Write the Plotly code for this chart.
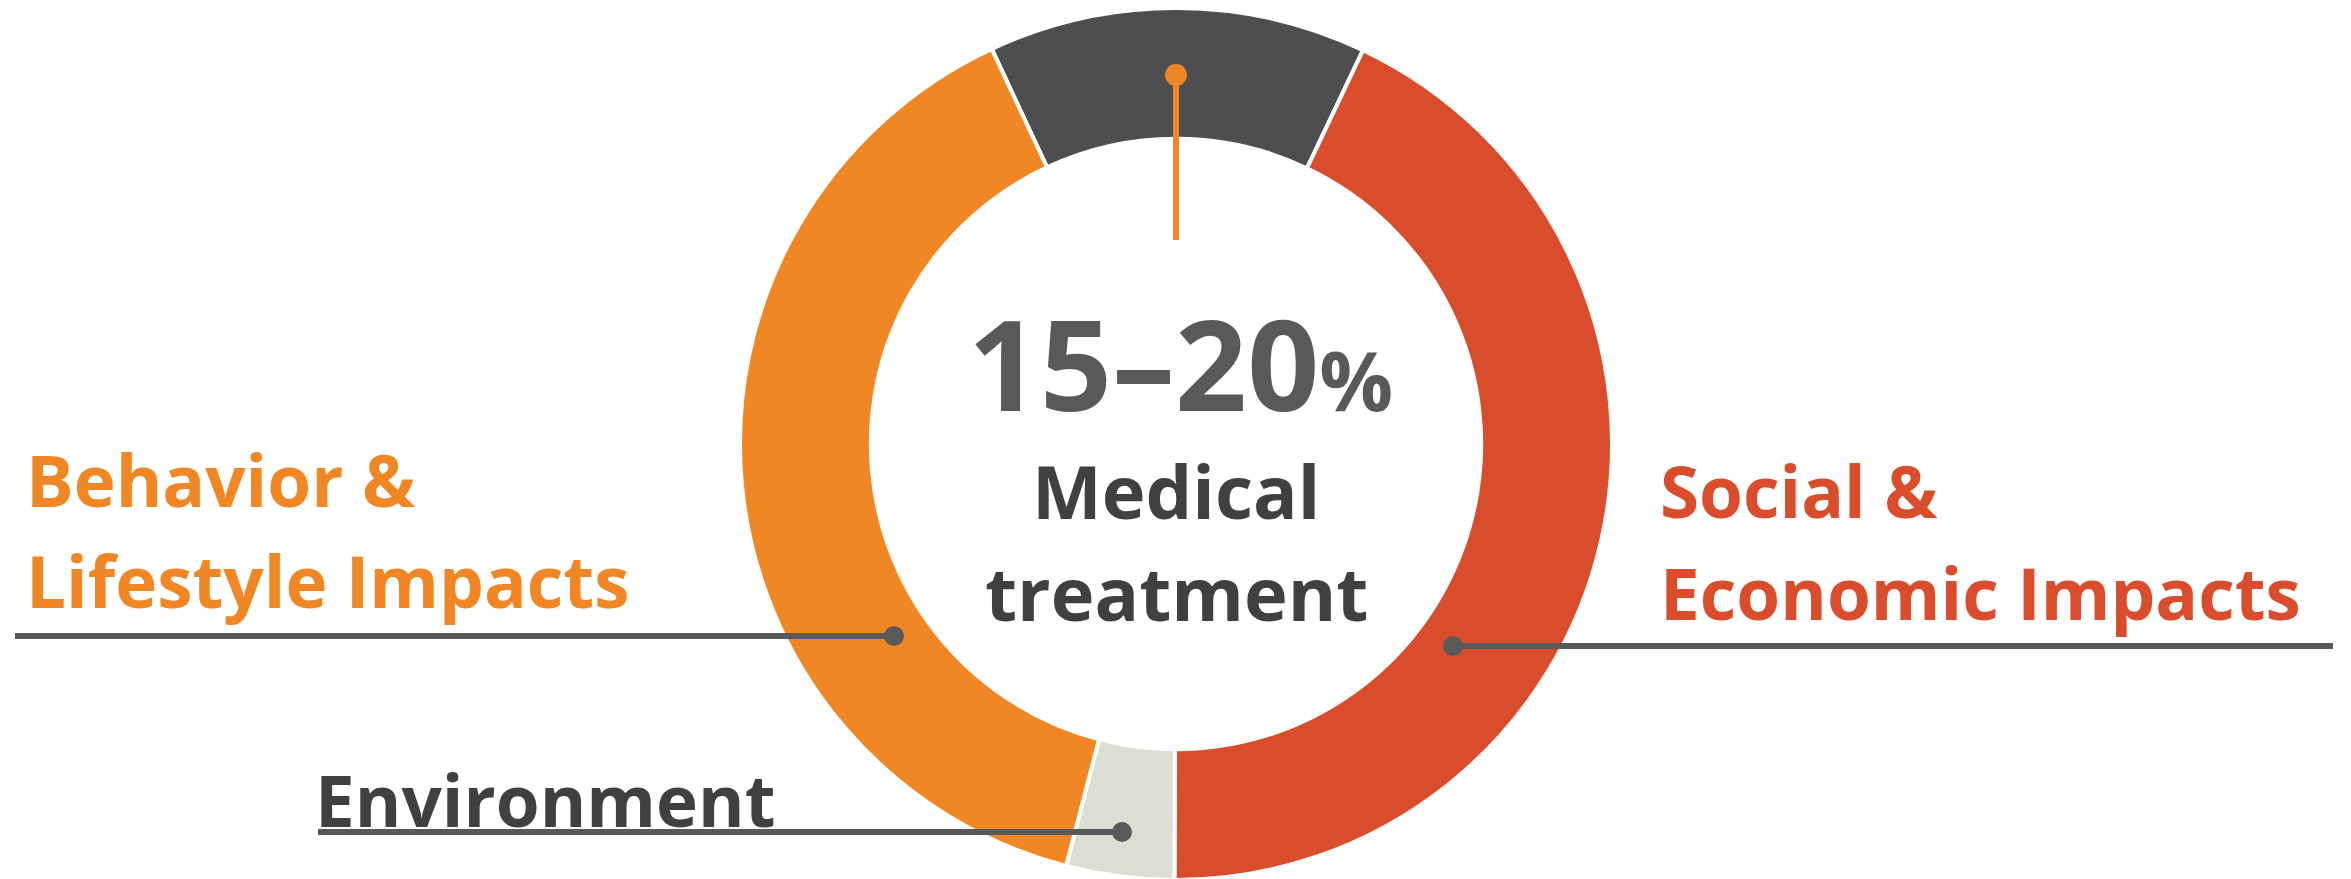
import plotly.graph_objects as go

W, H = 2351, 879
PAGE_OFFSET = 8  # the browser's default body margin shifts the figure by 8px

# slice data, clockwise from the top
categories = ["Medical treatment", "Social & Economic Impacts", "Environment", "Behavior & Lifestyle Impacts"]
shares = [14, 43, 4, 39]
colors = ["#4D4E50", "#DA4D2C", "#DCDDD3", "#F08724"]

FONT = "Open Sans"
ORANGE, RED, DARK, MID = "#F08724", "#DA4D2C", "#404040", "#595959"


def px(x):
    return (x - PAGE_OFFSET) / W


def py(y):
    return 1 - (y - PAGE_OFFSET) / H


fig = go.Figure(
    go.Pie(
        labels=categories,
        values=shares,
        hole=0.70,
        sort=False,
        direction="clockwise",
        rotation=-25,
        marker=dict(colors=colors, line=dict(color="white", width=4)),
        textinfo="none",
        showlegend=False,
        domain=dict(x=[px(1176 - 436), px(1176 + 436)], y=[py(880), py(8)]),
    )
)

shapes = []
dots = []


def leader(x0, x1, y, color, dot_x, r=10):
    shapes.append(dict(type="line", xref="paper", yref="paper", x0=px(x0), x1=px(x1),
                       y0=py(y), y1=py(y), line=dict(color=color, width=6), layer="above"))
    dots.append(dict(type="circle", xref="paper", yref="paper", xsizemode="pixel",
                     ysizemode="pixel", xanchor=px(dot_x), yanchor=py(y),
                     x0=-r, x1=r, y0=-r, y1=r, fillcolor=color,
                     line=dict(width=0), layer="above"))


leader(15, 894, 636, MID, 894)
leader(1453, 2333, 646, MID, 1453)
leader(318, 1122, 832, MID, 1122)
# vertical orange pointer for medical treatment
shapes.append(dict(type="line", xref="paper", yref="paper", x0=px(1176), x1=px(1176),
                   y0=py(75), y1=py(240), line=dict(color=ORANGE, width=6), layer="above"))
dots.append(dict(type="circle", xref="paper", yref="paper", xsizemode="pixel",
                 ysizemode="pixel", xanchor=px(1176), yanchor=py(75),
                 x0=-11, x1=11, y0=-11, y1=11, fillcolor=ORANGE,
                 line=dict(width=0), layer="above"))


def label(text, x, y, color, size, anchor="left"):
    return dict(text=text, x=px(x), y=py(y), xref="paper", yref="paper",
                xanchor=anchor, yanchor="middle", showarrow=False,
                font=dict(family=FONT, size=size, color=color, weight="bold"))


annotations = [
    label("Behavior &", 24, 479, ORANGE, 71),
    label("Lifestyle Impacts", 24, 580, ORANGE, 71),
    label("Social &", 1658, 491, RED, 71),
    label("Economic Impacts", 1658, 592, RED, 71),
    label("Environment", 313, 799, DARK, 71),
    label("15–20<span style='font-size:82px'>%</span>", 1180, 362, MID, 126, "center"),
    label("Medical", 1176, 490, DARK, 74, "center"),
    label("treatment", 1176, 592, DARK, 74, "center"),
]

fig.update_layout(
    width=W,
    height=H,
    margin=dict(l=0, r=0, t=0, b=0),
    paper_bgcolor="white",
    plot_bgcolor="white",
    shapes=shapes + dots,
    annotations=annotations,
)

fig.write_html("out.html")
